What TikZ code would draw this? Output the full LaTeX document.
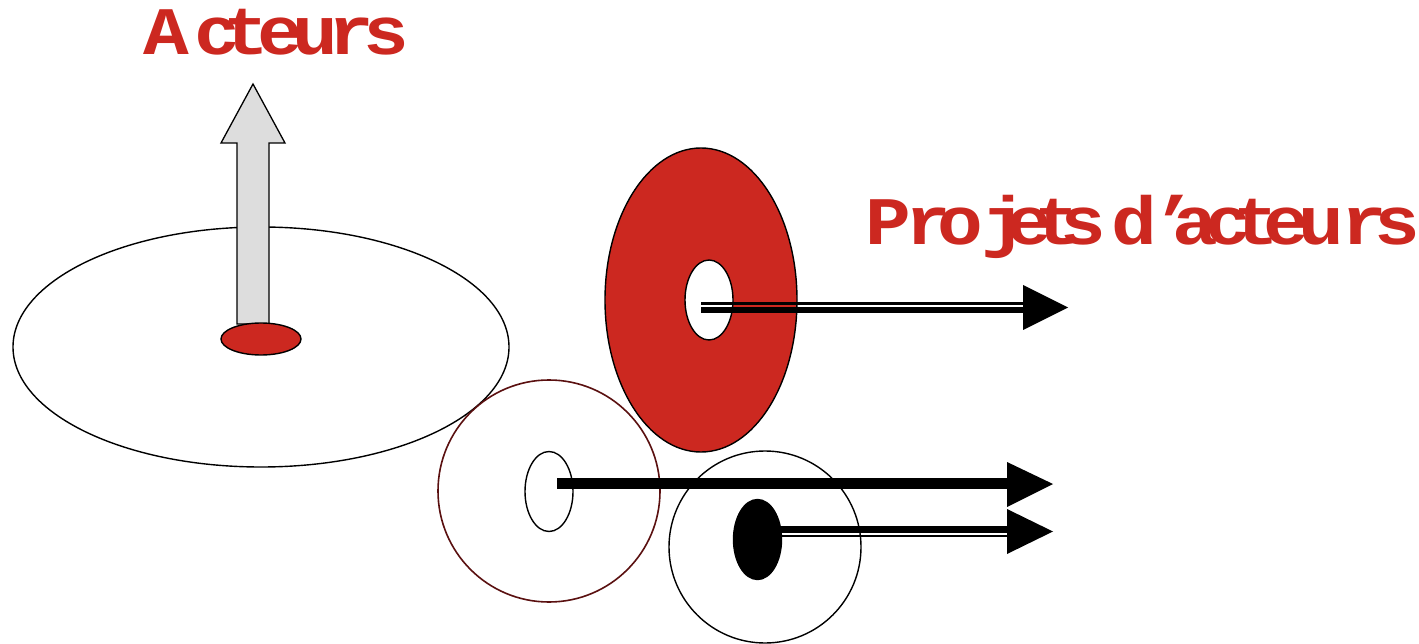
\documentclass[tikz,border=0pt]{standalone}
\usepackage{fontspec}
\usepackage{graphicx}
\usetikzlibrary{shapes.geometric}
\newfontfamily\monob{Liberation Mono}[BoldFont={* Bold}]
\definecolor{redf}{HTML}{CC2820}
\definecolor{grayf}{HTML}{DDDDDD}
\definecolor{brownl}{HTML}{5A1010}
\tikzset{
  outl/.style={draw=black,line width=1.4pt},
  ell/.style 2 args={ellipse,inner sep=0pt,minimum width=#1,minimum height=#2},
  lbl/.style={inner sep=0pt,anchor=base,text=redf,font=\monob\bfseries\fontsize{68}{68}\selectfont},
  shaft/.style={line width=#1,line cap=butt},
  headtri/.style={fill=black,draw=none}
}
\newcommand\wch[1]{\scalebox{1.12}[1]{#1}}
\begin{document}
\begin{tikzpicture}[x=1pt,y=-1pt]
\useasboundingbox (0,0) rectangle (1419,644);
% big ellipse
\node[outl,ell={496pt}{240pt}] (big) at (261,347) {};
% gray arrow
\draw[line width=1.3pt,fill=grayf,line join=miter] (237,324) -- (237,143) -- (221,143) -- (253,84) -- (285,143) -- (269,143) -- (269,324) -- cycle;
% red small ellipse
\node[outl,fill=redf,ell={80pt}{32pt}] (reds) at (261,339) {};
% red ring
\node[outl,fill=redf,ell={192pt}{304pt}] (ring) at (701,300) {};
\node[outl,fill=white,ell={48pt}{80pt}] (hole) at (709,300) {};
% brown circle
\node[draw=brownl,line width=1.6pt,circle,inner sep=0pt,minimum size=222pt] (brown) at (549,491) {};
\node[outl,ell={48pt}{80pt}] (bhole) at (549,491.5) {};
% black circle
\node[outl,circle,inner sep=0pt,minimum size=192pt] (blk) at (765,547) {};
\node[outl,fill=black,ell={48pt}{80pt}] (bcore) at (757.5,539.5) {};
% arrow 1
\draw[shaft=2.6pt] (701,303.6) -- (1024,303.6);
\draw[shaft=6.6pt] (701,310) -- (1024,310);
\coordinate (t1) at (1068,307.5);
\fill[headtri] (1023,285) -- (t1) -- (1023,330) -- cycle;
% arrow 2
\draw[shaft=11.6pt] (557,483.5) -- (1008,483.5);
\coordinate (t2) at (1053,484);
\fill[headtri] (1007,462) -- (t2) -- (1007,507) -- cycle;
% arrow 3
\draw[shaft=6.7pt] (781,529.3) -- (1008,529.3);
\draw[shaft=2.6pt] (781,536) -- (1008,536);
\coordinate (t3) at (1053,531.5);
\fill[headtri] (1007,509) -- (t3) -- (1007,554) -- cycle;
% labels
\foreach \c/\x [count=\i] in {A/166,c/217,t/246,e/280,u/315,r/351,s/386}
  \node[lbl] (ac\i) at (\x,55) {\wch{\c}};
\foreach \c/\x [count=\i] in {P/888,r/928,o/960,j/1004,e/1029,t/1057,s/1083,d/1134,’/1174,a/1195,c/1228,t/1256,e/1286,u/1321,r/1364,s/1397}
  \node[lbl] (pj\i) at (\x,245) {\wch{\c}};
\end{tikzpicture}
\end{document}
